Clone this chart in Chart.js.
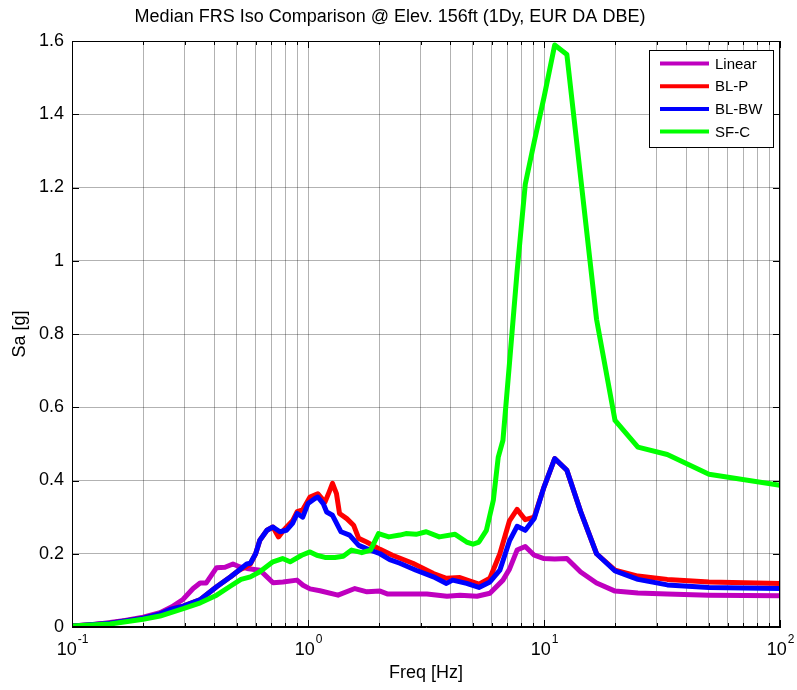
<!DOCTYPE html>
<html>
<head>
<meta charset="utf-8">
<script src="https://cdn.jsdelivr.net/npm/chart.js@4.4.1/dist/chart.umd.min.js"></script>
<style>
  html, body { margin: 0; padding: 0; background: #fff; }
  #wrap { width: 797px; height: 690px; }
</style>
</head>
<body>
<div id="wrap"><canvas id="frs-chart" width="797" height="690"></canvas></div>
<script>
// series (freq in Hz, Sa in g)
var linearFreq = [0.1, 0.119, 0.145, 0.168, 0.2, 0.236, 0.265, 0.295, 0.326, 0.349, 0.37, 0.41, 0.445, 0.481, 0.515, 0.551, 0.626, 0.67, 0.711, 0.783, 0.898, 0.953, 1.02, 1.124, 1.34, 1.58, 1.78, 2.02, 2.18, 2.7, 3.19, 3.88, 4.41, 5.2, 5.9, 6.7, 7.14, 7.69, 8.33, 9.09, 10, 11.1, 12.5, 14.3, 16.7, 20, 25, 33.3, 50, 100];
var linearSa = [0.003, 0.005, 0.012, 0.018, 0.027, 0.039, 0.055, 0.075, 0.105, 0.12, 0.12, 0.162, 0.163, 0.172, 0.164, 0.16, 0.155, 0.137, 0.121, 0.123, 0.128, 0.114, 0.104, 0.099, 0.087, 0.105, 0.096, 0.098, 0.09, 0.09, 0.09, 0.084, 0.087, 0.084, 0.092, 0.128, 0.158, 0.21, 0.22, 0.196, 0.187, 0.186, 0.187, 0.15, 0.12, 0.098, 0.093, 0.09, 0.087, 0.085];

var blpFreq = [0.1, 0.145, 0.2, 0.236, 0.26, 0.296, 0.35, 0.41, 0.47, 0.51, 0.55, 0.57, 0.6, 0.625, 0.67, 0.71, 0.75, 0.79, 0.86, 0.9, 0.95, 1.02, 1.1, 1.18, 1.23, 1.27, 1.32, 1.36, 1.46, 1.56, 1.64, 1.77, 2.02, 2.28, 2.78, 3.4, 3.86, 4.4, 5.3, 5.9, 6.5, 7.14, 7.69, 8.33, 9.09, 10, 11.1, 12.5, 14.3, 16.7, 20, 25, 33.3, 50, 100];
var blpSa = [0.003, 0.01, 0.024, 0.036, 0.048, 0.057, 0.075, 0.11, 0.137, 0.155, 0.166, 0.172, 0.2, 0.237, 0.264, 0.273, 0.246, 0.265, 0.29, 0.315, 0.32, 0.355, 0.364, 0.341, 0.369, 0.392, 0.364, 0.31, 0.296, 0.278, 0.242, 0.232, 0.212, 0.196, 0.174, 0.146, 0.133, 0.135, 0.117, 0.133, 0.2, 0.29, 0.321, 0.293, 0.3, 0.382, 0.46, 0.428, 0.315, 0.2, 0.155, 0.139, 0.13, 0.123, 0.119];

var blbwFreq = [0.1, 0.145, 0.2, 0.236, 0.26, 0.296, 0.35, 0.41, 0.47, 0.51, 0.55, 0.57, 0.6, 0.625, 0.67, 0.71, 0.76, 0.81, 0.86, 0.9, 0.95, 1.0, 1.07, 1.1, 1.16, 1.2, 1.27, 1.38, 1.5, 1.64, 1.77, 2.02, 2.22, 2.45, 2.87, 3.4, 3.86, 4.1, 4.7, 5.3, 5.9, 6.5, 7.14, 7.69, 8.33, 9.09, 10, 11.1, 12.5, 14.3, 16.7, 20, 25, 33.3, 50, 100];
var blbwSa = [0.003, 0.01, 0.024, 0.036, 0.048, 0.057, 0.075, 0.11, 0.137, 0.155, 0.172, 0.174, 0.2, 0.237, 0.264, 0.273, 0.26, 0.264, 0.283, 0.31, 0.3, 0.337, 0.351, 0.355, 0.337, 0.314, 0.305, 0.26, 0.251, 0.223, 0.214, 0.2, 0.184, 0.174, 0.155, 0.137, 0.119, 0.128, 0.119, 0.108, 0.123, 0.155, 0.235, 0.275, 0.264, 0.296, 0.382, 0.46, 0.428, 0.315, 0.2, 0.153, 0.13, 0.115, 0.108, 0.105];

var sfcFreq = [0.1, 0.145, 0.2, 0.236, 0.296, 0.35, 0.41, 0.47, 0.52, 0.57, 0.625, 0.71, 0.78, 0.84, 0.94, 1.02, 1.09, 1.18, 1.3, 1.41, 1.53, 1.69, 1.84, 1.99, 2.2, 2.45, 2.6, 2.87, 3.17, 3.6, 4.2, 4.7, 5.0, 5.3, 5.7, 6.1, 6.4, 6.7, 7.14, 7.69, 8.33, 9.09, 10, 11.1, 12.5, 16.7, 20, 25, 33.3, 50, 100];
var sfcSa = [0.003, 0.008, 0.021, 0.03, 0.05, 0.066, 0.087, 0.112, 0.13, 0.137, 0.151, 0.178, 0.187, 0.178, 0.196, 0.205, 0.196, 0.19, 0.19, 0.193, 0.21, 0.203, 0.21, 0.255, 0.246, 0.251, 0.255, 0.253, 0.26, 0.246, 0.253, 0.232, 0.226, 0.232, 0.264, 0.346, 0.464, 0.51, 0.72, 0.97, 1.209, 1.325, 1.446, 1.589, 1.563, 0.84, 0.564, 0.491, 0.471, 0.417, 0.387];

var seriesNames = ['Linear', 'BL-P', 'BL-BW', 'SF-C'];
var seriesColors = ['rgb(191,0,191)', 'rgb(255,0,0)', 'rgb(0,0,255)', 'rgb(0,255,0)'];

var xMajorTicks = [0.1, 1, 10, 100];
var xTickLabels = [['10', '-1'], ['10', '0'], ['10', '1'], ['10', '2']];
var yTickValues = [0, 0.2, 0.4, 0.6, 0.8, 1, 1.2, 1.4, 1.6];

var FONT = "'Liberation Sans', Arial, Helvetica, sans-serif";

var zip = (fs, vs) => fs.map((f, i) => ({x: f, y: vs[i]}));

// grid at every 1..9 x decade, like matlab minor log grid
var xGridTicks = [];
for (var d = 0; d < xMajorTicks.length - 1; d++) {
    for (var m = 1; m <= 9; m++) xGridTicks.push(+(xMajorTicks[d] * m).toPrecision(3));
}
xGridTicks.push(xMajorTicks[xMajorTicks.length - 1]);

var matlabAxes = {
    id: 'matlabAxes',
    afterDraw: (chart) => {
        var ctx = chart.ctx;
        var a = chart.chartArea;
        var xs = chart.scales.x, ys = chart.scales.y;
        ctx.save();
        // box
        ctx.strokeStyle = '#000';
        ctx.lineWidth = 1;
        ctx.strokeRect(a.left + 0.5, a.top + 0.5, a.right - a.left - 1, a.bottom - a.top - 1);
        // inward ticks
        ctx.beginPath();
        xGridTicks.forEach(v => {
            var px = Math.round(xs.getPixelForValue(v)) + 0.5;
            var len = xMajorTicks.indexOf(v) >= 0 ? 7 : 4;
            ctx.moveTo(px, a.bottom); ctx.lineTo(px, a.bottom - len);
            ctx.moveTo(px, a.top); ctx.lineTo(px, a.top + len);
        });
        yTickValues.forEach(v => {
            var py = Math.round(ys.getPixelForValue(v)) + 0.5;
            ctx.moveTo(a.left, py); ctx.lineTo(a.left + 7, py);
            ctx.moveTo(a.right, py); ctx.lineTo(a.right - 7, py);
        });
        ctx.stroke();
        // x labels with superscript exponent
        ctx.fillStyle = '#000';
        ctx.textBaseline = 'alphabetic';
        ctx.textAlign = 'left';
        xMajorTicks.forEach((v, i) => {
            var px = xs.getPixelForValue(v);
            ctx.font = '18px ' + FONT;
            var wBase = ctx.measureText(xTickLabels[i][0]).width;
            ctx.font = '12px ' + FONT;
            var wExp = ctx.measureText(xTickLabels[i][1]).width;
            var x0 = px - (wBase + wExp) / 2;
            ctx.font = '18px ' + FONT;
            ctx.fillText(xTickLabels[i][0], x0, 655);
            ctx.font = '12px ' + FONT;
            ctx.fillText(xTickLabels[i][1], x0 + wBase + 1, 643);
        });
        // legend box
        var lx = 649, ly = 50, lw = 124, lh = 97;
        ctx.fillStyle = '#fff';
        ctx.fillRect(lx, ly, lw, lh);
        ctx.strokeRect(lx + 0.5, ly + 0.5, lw, lh);
        ctx.font = '15px ' + FONT;
        ctx.textBaseline = 'middle';
        seriesNames.forEach((name, i) => {
            var ry = 63.5 + i * 22.7;
            ctx.strokeStyle = seriesColors[i];
            ctx.lineWidth = 4;
            ctx.beginPath();
            ctx.moveTo(660, ry); ctx.lineTo(709, ry);
            ctx.stroke();
            ctx.fillStyle = '#000';
            ctx.fillText(name, 715, ry + 1);
        });
        ctx.restore();
    }
};

var genChart = () => {
    var ctx = document.getElementById('frs-chart').getContext('2d');
    var allFreq = [linearFreq, blpFreq, blbwFreq, sfcFreq];
    var allSa = [linearSa, blpSa, blbwSa, sfcSa];
    return new Chart(ctx, {
        type: 'line',
        data: {
            datasets: seriesNames.map((name, i) => ({
                label: name,
                data: zip(allFreq[i], allSa[i]),
                borderColor: seriesColors[i],
                backgroundColor: seriesColors[i],
                borderWidth: 5,
                borderJoinStyle: 'round',
                borderCapStyle: 'round',
                pointRadius: 0,
                tension: 0,
                fill: false,
                order: seriesNames.length - i
            }))
        },
        options: {
            responsive: false,
            animation: false,
            layout: { padding: { left: 0, right: 17, top: 0, bottom: 0 } },
            plugins: {
                legend: { display: false },
                tooltip: { enabled: false },
                title: {
                    display: true,
                    text: 'Median FRS Iso Comparison @ Elev. 156ft (1Dy, EUR DA DBE)',
                    color: '#000',
                    font: { family: FONT, size: 18, weight: 'normal' },
                    padding: { top: 6, bottom: 13.4 }
                }
            },
            scales: {
                x: {
                    type: 'logarithmic',
                    min: 0.1,
                    max: 100,
                    afterBuildTicks: (scale) => { scale.ticks = xGridTicks.map(v => ({ value: v })); },
                    afterFit: (scale) => { scale.height = 63; },
                    ticks: { display: false },
                    grid: { color: 'rgba(0,0,0,0.3)', lineWidth: 1, drawTicks: false },
                    border: { display: true, color: '#000', width: 1 },
                    title: {
                        display: true,
                        text: 'Freq [Hz]',
                        color: '#000',
                        font: { family: FONT, size: 18, weight: 'normal' },
                        padding: { top: 0, bottom: 6 }
                    }
                },
                y: {
                    min: 0,
                    max: 1.6,
                    afterBuildTicks: (scale) => { scale.ticks = yTickValues.map(v => ({ value: v })); },
                    afterFit: (scale) => { scale.width = 72; },
                    ticks: {
                        color: '#000',
                        padding: 8,
                        font: { family: FONT, size: 18 },
                        callback: (v) => String(+(+v).toFixed(1))
                    },
                    grid: { color: 'rgba(0,0,0,0.3)', lineWidth: 1, drawTicks: false },
                    border: { display: true, color: '#000', width: 1 },
                    title: {
                        display: true,
                        text: 'Sa [g]',
                        color: '#000',
                        font: { family: FONT, size: 18, weight: 'normal' },
                        padding: { top: 9, bottom: 0 }
                    }
                }
            }
        },
        plugins: [matlabAxes]
    });
};

var chart = genChart();
</script>
</body>
</html>
